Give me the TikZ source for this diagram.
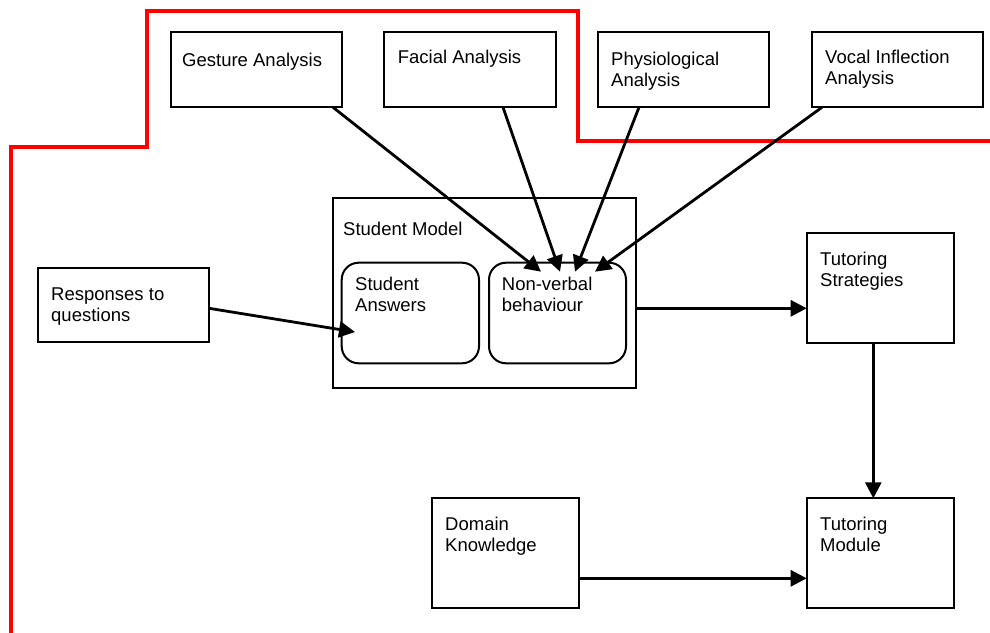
\documentclass[tikz,border=0pt]{standalone}
\usepackage{fontspec}
\setmainfont{Liberation Sans}
\usetikzlibrary{arrows.meta,calc}
\begin{document}
\begin{tikzpicture}[x=1pt,y=-1pt,
  box/.style={draw, line width=2pt, anchor=north west, inner sep=0pt, outer sep=0pt},
  rbox/.style={box, rounded corners=17pt},
  txt/.style={anchor=north west, inner sep=0pt, align=left, font=\fontsize{18.5pt}{21pt}\selectfont},
  arr/.style={line width=2.8pt, -{Triangle[length=16pt,width=16pt]}},
  redline/.style={draw=red, line width=4pt}
]
\useasboundingbox (0,0) rectangle (990,632);
% red boundary
\coordinate (r0) at (11,640);
\coordinate (r1) at (11,147.3);
\coordinate (r2) at (146.7,147.3);
\coordinate (r3) at (146.7,11);
\coordinate (r4) at (578.3,11);
\coordinate (r5) at (578.3,140.7);
\coordinate (r6) at (1000,140.7);
\draw[redline] (r0) -- (r1) -- (r2) -- (r3) -- (r4) -- (r5) -- (r6);

% boxes
\node[box, minimum width=171pt, minimum height=75pt] (gest) at (170.7,32.3) {};
\node[box, minimum width=171.4pt, minimum height=75pt] (fac) at (384.3,32.3) {};
\node[box, minimum width=171.6pt, minimum height=75pt] (phys) at (597.7,32.3) {};
\node[box, minimum width=171pt, minimum height=75pt] (voc) at (811.7,32.3) {};
\node[box, minimum width=303.3pt, minimum height=190pt] (sm) at (332.7,198.3) {};
\node[rbox, minimum width=137.3pt, minimum height=100.6pt] (sa) at (341.7,262.7) {};
\node[rbox, minimum width=137pt, minimum height=100.6pt] (nv) at (489,262.7) {};
\node[box, minimum width=171.3pt, minimum height=74.6pt] (resp) at (37.7,267.7) {};
\node[box, minimum width=147.3pt, minimum height=109.4pt] (ts) at (806.7,233.3) {};
\node[box, minimum width=147.3pt, minimum height=110pt] (tm) at (806.7,498.3) {};
\node[box, minimum width=147.3pt, minimum height=110pt] (dk) at (431.7,498.3) {};

% texts (top = baseline - 14.7)
\node[txt] (gestT) at (182,52) {\strut Gesture Analysis};
\node[txt] (facT) at (397.7,48.6) {\strut Facial Analysis};
\node[txt] (physT) at (611,50.3) {\strut Physiological\\Analysis};
\node[txt] (vocT) at (825,48.6) {\strut Vocal Inflection\\Analysis};
\node[txt] (smT) at (343,220.3) {\strut Student Model};
\node[txt] (saT) at (355,275.3) {\strut Student\\Answers};
\node[txt] (nvT) at (501.7,275.3) {\strut Non-verbal\\behaviour};
\node[txt] (respT) at (51,285.3) {\strut Responses to\\questions};
\node[txt] (tsT) at (820,250.3) {\strut Tutoring\\Strategies};
\node[txt] (dkT) at (445,515.3) {\strut Domain\\Knowledge};
\node[txt] (tmT) at (820,515.3) {\strut Tutoring\\Module};

% connectors
\draw[arr] ($(gest.south west)+(162.3,0)$) -- ($(nv.north west)+(52,9)$);
\draw[arr] ($(fac.south west)+(118.7,0)$) -- ($(nv.north west)+(71,9)$);
\draw[arr] ($(phys.south west)+(41.3,0)$) -- ($(nv.north west)+(86,9)$);
\draw[arr] ($(voc.south west)+(10.3,0)$) -- ($(nv.north west)+(106,9)$);
\draw[arr] ($(resp.south east)+(0,-34)$) -- ($(sa.north west)+(13.3,69.3)$);
\draw[arr] ($(sm.north east)+(0,110)$) -- ($(ts.north west)+(0,75)$);
\draw[arr] ($(ts.south west)+(66.6,0)$) -- ($(tm.north west)+(66.6,0)$);
\draw[arr] ($(dk.south east)+(0,-30)$) -- ($(tm.south west)+(0,-30)$);
\end{tikzpicture}
\end{document}
